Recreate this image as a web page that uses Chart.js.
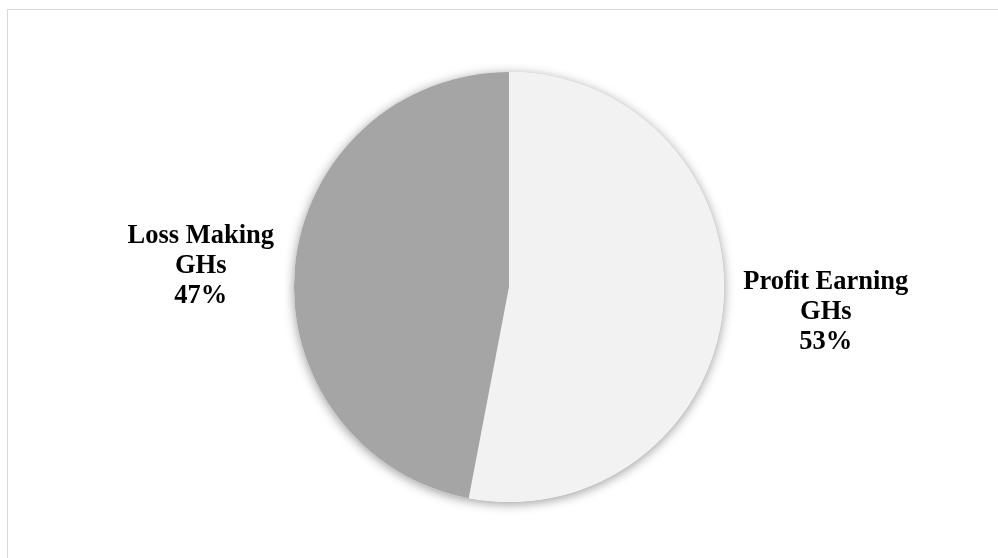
<!DOCTYPE html>
<html>
<head>
<meta charset="utf-8">
<script src="https://cdn.jsdelivr.net/npm/chart.js@4.4.1/dist/chart.umd.min.js"></script>
<style>
	html, body { margin: 0; padding: 0; background: #ffffff; overflow: hidden; }
	#wrap { position: relative; width: 998px; height: 558px; }
	#frame { position: absolute; left: 7px; top: 9px; width: 1100px; height: 700px; border: 1px solid #d9d9d9; box-sizing: border-box; }
	canvas { position: absolute; left: 0; top: 0; }
</style>
</head>
<body>
<div id="wrap">
	<div id="frame"></div>
	<canvas id="pieChart" width="998" height="558"></canvas>
</div>
<script>
const categories = ['Profit Earning GHs', 'Loss Making GHs'];
const labelLines = [['Profit Earning', 'GHs'], ['Loss Making', 'GHs']];
const shares = [53, 47];

const sliceColors = ['#f2f2f2', '#a5a5a5'];
// how far out each label sits (relative to the outer radius) and a small vertical nudge
const labelDistance = [1.48, 1.44];
const labelNudgeY = [-5, 8];

// soft shadow under the whole pie, drawn once so slices don't shade each other
const pieShadow = {
	id: 'pieShadow',
	beforeDatasetsDraw(chart) {
		const arc = chart.getDatasetMeta(0).data[0];
		if (!arc) return;
		const ctx = chart.ctx;
		ctx.save();
		ctx.shadowColor = 'rgba(0, 0, 0, 0.4)';
		ctx.shadowBlur = 11;
		ctx.shadowOffsetY = 2;
		ctx.fillStyle = '#ffffff';
		ctx.beginPath();
		ctx.arc(arc.x, arc.y, arc.outerRadius, 0, Math.PI * 2);
		ctx.fill();
		ctx.restore();
	}
};

// category name + percentage outside each slice
const outsideLabels = {
	id: 'outsideLabels',
	afterDatasetsDraw(chart) {
		const ctx = chart.ctx;
		const meta = chart.getDatasetMeta(0);
		const values = chart.data.datasets[0].data;
		const total = values.reduce((a, b) => a + b, 0);
		ctx.save();
		ctx.font = 'bold 26.5px "Liberation Serif", "Times New Roman", serif';
		ctx.fillStyle = '#000000';
		ctx.textAlign = 'center';
		ctx.textBaseline = 'middle';
		meta.data.forEach((arc, i) => {
			const mid = (arc.startAngle + arc.endAngle) / 2;
			const d = arc.outerRadius * labelDistance[i];
			const cx = arc.x + Math.cos(mid) * d;
			const cy = arc.y + Math.sin(mid) * d + labelNudgeY[i];
			const lines = labelLines[i].concat([Math.round(values[i] / total * 100) + '%']);
			const lh = 30;
			lines.forEach((t, k) => {
				ctx.fillText(t, cx, cy + (k - 1) * lh);
			});
		});
		ctx.restore();
	}
};

new Chart(document.getElementById('pieChart').getContext('2d'), {
	type: 'pie',
	data: {
		labels: categories,
		datasets: [{
			data: shares,
			backgroundColor: sliceColors,
			borderWidth: 0,
			hoverOffset: 0
		}]
	},
	options: {
		responsive: false,
		animation: false,
		rotation: 0,
		layout: {
			padding: { left: 20, right: 0, top: 72, bottom: 56 }
		},
		plugins: {
			legend: { display: false },
			tooltip: { enabled: false }
		}
	},
	plugins: [pieShadow, outsideLabels]
});
</script>
</body>
</html>
